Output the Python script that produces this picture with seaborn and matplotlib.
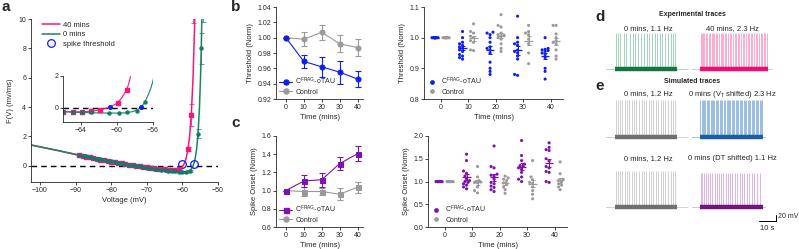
import numpy as np
import pandas as pd
import matplotlib
matplotlib.use("Agg")
import matplotlib.pyplot as plt
from matplotlib.lines import Line2D
import seaborn as sns
import warnings
warnings.filterwarnings("ignore")

sns.set_style("ticks")
plt.rcParams["font.family"] = ["Liberation Sans", "DejaVu Sans"]
plt.rcParams["mathtext.fontset"] = "custom"
plt.rcParams["mathtext.rm"] = "Liberation Sans"
plt.rcParams["axes.linewidth"] = 0.6
plt.rcParams["xtick.major.width"] = 0.6
plt.rcParams["ytick.major.width"] = 0.6
plt.rcParams["xtick.major.size"] = 2
plt.rcParams["ytick.major.size"] = 2
plt.rcParams["xtick.major.pad"] = 1.5
plt.rcParams["ytick.major.pad"] = 1.5
plt.rcParams["xtick.labelsize"] = 5
plt.rcParams["ytick.labelsize"] = 5
plt.rcParams["axes.labelsize"] = 5.5

PINK = "#f7177a"
GREEN = "#18875a"
TEAL = "#137a6c"
BLUE = "#0f1ef0"
GRAY = "#9a9a9a"
PURPLE = "#7d12b0"

# ---------------- a: F(V) ----------------
v_fit_40 = [-102.5, -95, -90, -85, -80, -75, -70, -66, -64, -63, -62, -61, -60.5,
            -60, -59.5, -59, -58.5, -58, -57.5, -57, -56.6, -56.4]
f_fit_40 = [1.42, 1.04, 0.77, 0.51, 0.27, 0.04, -0.15, -0.25, -0.29, -0.30, -0.30, -0.25, -0.18,
            -0.06, 0.14, 0.46, 1.02, 1.93, 3.47, 6.04, 9.3, 11.5]
v_fit_0 = [-102.5, -95, -90, -85, -80, -75, -70, -66, -64, -62, -60, -59, -58, -57.5,
           -57, -56.5, -56, -55.6, -55.2, -54.9, -54.7, -54.5]
f_fit_0 = [1.42, 1.05, 0.79, 0.54, 0.29, 0.05, -0.18, -0.31, -0.36, -0.39, -0.42, -0.42, -0.33, -0.22,
           -0.01, 0.38, 1.13, 2.2, 3.99, 6.08, 8.0, 10.5]

v_pts_40 = [-89, -88, -87, -86, -85, -84, -83, -82, -81, -80, -79, -78, -77, -76, -75,
            -74, -73, -72, -71, -70, -69, -68, -67, -66, -65, -64, -63, -62, -61,
            -58.4, -57.5, -56.9]
f_pts_40 = [0.73, 0.68, 0.63, 0.58, 0.53, 0.48, 0.43, 0.39, 0.34, 0.29, 0.25, 0.20, 0.16, 0.12, 0.08,
            0.04, 0.00, -0.03, -0.07, -0.10, -0.13, -0.16, -0.19, -0.22, -0.24, -0.26, -0.28, -0.28, -0.24,
            1.16, 3.47, 11.5]
e_pts_40 = [0.05] * 29 + [0.15, 0.75, 1.8]
v_pts_0 = [-89, -88, -87, -86, -85, -84, -83, -82, -81, -80, -79, -78, -77, -76, -75, -74,
           -73, -72, -71, -70, -69, -68, -67, -66, -65, -64, -63, -62, -61, -60, -59, -58,
           -55.6, -54.7, -54.3]
f_pts_0 = [0.75, 0.70, 0.65, 0.60, 0.55, 0.50, 0.45, 0.40, 0.35, 0.30, 0.25, 0.21, 0.16, 0.12, 0.08, 0.04,
           0.00, -0.04, -0.08, -0.12, -0.16, -0.20, -0.23, -0.27, -0.30, -0.33, -0.36, -0.38, -0.40, -0.41,
           -0.41, -0.34, 2.2, 8.0, 11.5]
e_pts_0 = [0.05] * 32 + [0.3, 1.05, 1.7]
v_thr = [-60.0, -56.8]
f_thr = [0.1, 0.1]

# inset
v_in_fit_40 = [-66, -64, -63, -62, -61, -60.5, -60, -59.5, -59, -58.7, -58.5]
f_in_fit_40 = [-0.25, -0.26, -0.23, -0.15, 0.0, 0.12, 0.28, 0.6, 1.05, 1.5, 1.96]
v_in_fit_0 = [-66, -64, -62, -60, -59, -58.3, -57.8, -57.3, -56.9, -56.5, -56.2, -56.0, -55.9]
f_in_fit_0 = [-0.25, -0.3, -0.33, -0.34, -0.32, -0.25, -0.15, 0.02, 0.37, 0.85, 1.3, 1.7, 2.0]
v_in_40 = [-66, -64.9, -63.9, -62.9, -61.9, -59.9, -58.9]
f_in_40 = [-0.25, -0.25, -0.25, -0.23, -0.13, 0.29, 1.12]
v_in_0 = [-66, -64.9, -63.9, -62.9, -60.9, -59.8, -58.85, -57.8, -56.9]
f_in_0 = [-0.25, -0.25, -0.27, -0.3, -0.33, -0.33, -0.3, -0.23, 0.37]
v_in_thr = [-60.8, -57.35]
f_in_thr = [0.02, 0.02]

# ---------------- b/c: group means ----------------
times = [0, 10, 20, 30, 40]
thr_tau_mean = [1.0, 0.969, 0.962, 0.955, 0.946]
thr_tau_sem = [0.0, 0.008, 0.013, 0.015, 0.010]
thr_ctl_mean = [1.0, 0.998, 1.007, 0.992, 0.987]
thr_ctl_sem = [0.0, 0.009, 0.010, 0.011, 0.011]
ons_tau_mean = [1.0, 1.105, 1.12, 1.296, 1.406]
ons_tau_sem = [0.0, 0.07, 0.078, 0.073, 0.08]
ons_ctl_mean = [1.0, 0.99, 0.99, 0.96, 1.037]
ons_ctl_sem = [0.0, 0.045, 0.04, 0.065, 0.06]

# individual cells
thr_tau = [[1.0] * 12,
           [1.02, 1.0, 0.985, 0.98, 0.975, 0.97, 0.965, 0.96, 0.955, 0.945, 0.94, 0.935, 0.93],
           [1.018, 1.015, 1.01, 1.0, 0.985, 0.97, 0.965, 0.96, 0.95, 0.92, 0.90, 0.89, 0.88],
           [1.07, 1.0, 0.985, 0.98, 0.975, 0.96, 0.955, 0.95, 0.94, 0.93, 0.88, 0.877],
           [1.0, 0.965, 0.962, 0.96, 0.958, 0.955, 0.95, 0.945, 0.935, 0.9, 0.89, 0.865]]
thr_ctl = [[1.0] * 10,
           [1.045, 1.02, 1.015, 1.005, 1.0, 0.99, 0.985, 0.96, 0.958],
           [1.075, 1.04, 1.035, 1.015, 1.01, 1.008, 1.005, 1.0, 0.995, 0.98, 0.965, 0.955],
           [1.04, 1.02, 1.015, 1.01, 0.995, 0.98, 0.95, 0.915],
           [1.04, 1.04, 1.012, 1.0, 0.99, 0.985, 0.98, 0.96, 0.94, 0.93]]
ons_tau = [[1.0] * 12,
           [1.6, 1.46, 1.23, 1.18, 1.12, 1.06, 1.02, 1.0, 0.98, 0.95, 0.92, 0.88, 0.84],
           [1.78, 1.33, 1.3, 1.16, 1.14, 1.12, 1.05, 0.98, 0.95, 0.9, 0.87, 0.82, 0.78],
           [1.9, 1.57, 1.46, 1.38, 1.35, 1.33, 1.3, 1.27, 1.2, 1.1, 1.05, 1.0],
           [1.85, 1.75, 1.7, 1.68, 1.5, 1.45, 1.33, 1.3, 1.22, 1.2, 1.0, 0.98]]
ons_ctl = [[1.0] * 10,
           [1.33, 1.1, 1.02, 1.0, 0.99, 0.98, 0.97, 0.88, 0.8, 0.75],
           [1.12, 1.08, 1.05, 1.02, 0.97, 0.93, 0.88, 0.82, 0.74],
           [1.46, 1.1, 1.04, 0.98, 0.96, 0.88, 0.8, 0.72, 0.62],
           [1.43, 1.17, 1.05, 1.02, 1.0, 0.95, 0.92, 0.88, 0.82]]

groups = ["tau", "ctl"]
tau_label = r"C$^{\rm FRAG}$-oTAU"

# ---------------- d/e: spike times (s from start of recording) ----------------
spk_exp_0 = [0.5, 1.8, 3.2, 5.0, 6.4, 8.9, 10.5, 12.0, 13.8, 15.1, 17.0, 18.9, 20.2, 21.8,
             23.5, 24.7, 26.3, 27.9, 29.6, 31.0, 32.8, 34.0, 35.5]
spk_exp_40 = [0.3, 1.0, 1.8, 2.5, 3.4, 4.2, 5.0, 5.7, 6.8, 7.6, 8.3, 9.5, 10.2, 11.0, 12.1,
              12.9, 13.8, 14.6, 15.5, 16.7, 17.4, 18.3, 19.5, 20.4, 21.2, 22.3, 23.1, 24.0,
              25.2, 26.1, 27.0, 28.0, 28.8, 29.9, 30.8, 31.6, 32.7, 33.6, 34.5, 35.6, 36.4,
              37.5, 38.4, 39.3]
spk_sim_0 = [0.4, 1.5, 2.9, 4.1, 5.6, 7.0, 8.2, 9.9, 11.3, 12.5, 14.0, 15.6, 16.8, 18.3,
             19.9, 21.0, 22.6, 24.1, 25.3, 26.9, 28.4, 29.6, 31.2, 32.7, 34.0, 35.4]
spk_sim_vt = [0.2, 0.9, 1.6, 2.4, 3.1, 3.9, 4.6, 5.5, 6.2, 7.0, 7.8, 8.5, 9.3, 10.1, 10.8,
              11.7, 12.4, 13.2, 14.0, 14.7, 15.6, 16.3, 17.1, 17.9, 18.6, 19.5, 20.2, 21.0,
              21.8, 22.5, 23.4, 24.1, 24.9, 25.7, 26.4, 27.3, 28.0, 28.8, 29.6, 30.3, 31.2,
              31.9, 32.7, 33.5, 34.2, 35.1, 35.8, 36.6]
spk_sim_dt = [0.3, 1.4, 2.2, 3.6, 4.8, 6.1, 7.0, 8.6, 9.8, 11.2, 12.6, 13.5, 15.0, 16.4,
              17.8, 19.0, 20.6, 21.7, 23.3, 24.8, 26.0, 27.6, 29.1, 30.4, 32.0, 33.5, 35.2]

# ------------------------------------------------------------------
W, H = 799, 249
fig = plt.figure(figsize=(W / 100, H / 100), dpi=100)


def px_axes(l, t, r, b):
    return fig.add_axes([l / W, 1 - b / H, (r - l) / W, (b - t) / H])


def px_text(x, y, s, **kw):
    fig.text(x / W, 1 - y / H, s, **kw)


# ---- a ----
ax = px_axes(31, 19, 218, 182)
ax.axhline(0, color="k", lw=1.0, ls=(0, (4, 3)), zorder=1)
sns.lineplot(x=v_fit_40, y=f_fit_40, color=PINK, lw=1.1, ax=ax, sort=False)
sns.lineplot(x=v_fit_0, y=f_fit_0, color=GREEN, lw=1.1, ax=ax, sort=False)
ax.errorbar(v_pts_40, f_pts_40, yerr=e_pts_40, fmt="s", ms=2.2, color=PINK,
            elinewidth=0.5, capsize=1.8, capthick=0.5)
ax.errorbar(v_pts_0, f_pts_0, yerr=e_pts_0, fmt="o", ms=2.2, color=TEAL,
            elinewidth=0.5, capsize=1.8, capthick=0.5)
ax.plot(v_thr, f_thr, "o", mfc="none", mec=BLUE, ms=5.5, mew=0.9)
ax.set_xlim(-102.5, -50)
ax.set_ylim(-1.1, 10)
ax.set_xticks([-100, -90, -80, -70, -60, -50])
ax.set_yticks([0, 2, 4, 6, 8, 10])
ax.set_xlabel("Voltage (mV)", labelpad=2)
ax.set_ylabel("F(V) (mv/ms)", labelpad=3)
sns.despine(ax=ax)
handles = [Line2D([], [], color=PINK, lw=1.1), Line2D([], [], color=GREEN, lw=1.1),
           Line2D([], [], ls="none", marker="o", mfc="none", mec=BLUE, ms=5.5, mew=0.9)]
ax.legend(handles, ["40 mins", "0 mins", "spike threshold"], loc="upper left",
          bbox_to_anchor=(0.04, 1.01), frameon=False, fontsize=5.5, handlelength=2.3,
          handletextpad=0.4, labelspacing=0.3, borderaxespad=0.1)

# inset
axi = px_axes(63, 76, 153, 122)
axi.axhline(0, color="k", lw=1.0, ls=(0, (4, 3)), zorder=1)
sns.lineplot(x=v_in_fit_40, y=f_in_fit_40, color=PINK, lw=0.8, ax=axi, sort=False)
sns.lineplot(x=v_in_fit_0, y=f_in_fit_0, color=GREEN, lw=0.8, ax=axi, sort=False)
axi.plot(v_in_40, f_in_40, "s", color=PINK, ms=2.2)
axi.plot(v_in_0, f_in_0, "o", color=TEAL, ms=2.2)
axi.plot(v_in_thr, f_in_thr, "o", color=BLUE, ms=2.6)
axi.set_xlim(-66, -56)
axi.set_ylim(-0.9, 2)
axi.set_xticks([-64, -60, -56])
axi.set_yticks([0, 2])
sns.despine(ax=axi)


# ---- b/c left: means over time ----
def mean_panel(rect, m_tau, s_tau, m_ctl, s_ctl, c_tau, ylim, yticks, fmt, ylabel):
    a = px_axes(*rect)
    for m, s, c in [(m_ctl, s_ctl, GRAY), (m_tau, s_tau, c_tau)]:
        a.errorbar(times, m, yerr=s, fmt="none", ecolor=c, elinewidth=0.8,
                   capsize=2, capthick=0.8)
        sns.lineplot(x=times, y=m, color=c, marker=fmt, ms=3.6, mec=c, lw=0.8, ax=a)
    a.set_xlim(-5.5, 43)
    a.set_ylim(*ylim)
    a.set_xticks(times)
    a.set_yticks(yticks)
    a.set_xlabel("Time (mins)", labelpad=2)
    a.set_ylabel(ylabel, labelpad=2)
    sns.despine(ax=a)
    hs = [Line2D([], [], color=c_tau, marker=fmt, ms=3.6, lw=0.8),
          Line2D([], [], color=GRAY, marker="o", ms=3.6, lw=0.8)]
    a.legend(hs, [tau_label, "Control"], loc="lower left", frameon=False, fontsize=5,
             handlelength=1.8, handletextpad=0.5, labelspacing=0.25, borderaxespad=0.1)
    return a


axb = mean_panel((276, 7, 363, 99), thr_tau_mean, thr_tau_sem, thr_ctl_mean, thr_ctl_sem,
                 BLUE, (0.92, 1.04), [0.92, 0.94, 0.96, 0.98, 1.00, 1.02, 1.04], "o",
                 "Threshold (Norm)")
axb.yaxis.set_major_formatter(matplotlib.ticker.FormatStrFormatter("%.2f"))
axc = mean_panel((276, 136, 363, 227), ons_tau_mean, ons_tau_sem, ons_ctl_mean, ons_ctl_sem,
                 PURPLE, (0.6, 1.6), [0.6, 0.8, 1.0, 1.2, 1.4, 1.6], "s",
                 "Spike Onset (Norm)")
axc.yaxis.set_major_formatter(matplotlib.ticker.FormatStrFormatter("%.1f"))


# ---- b/c right: individual cells ----
def swarm_offsets(vals, px_x, px_y, d=3.0, max_off=1.5):
    # place points like a bee swarm, limited to +-max_off units around the group centre
    step = d / px_x / 2
    cands = [0.0]
    k = 1
    while k * step <= max_off:
        cands += [-k * step, k * step]
        k += 1
    offs = np.zeros(len(vals))
    placed = []
    for i in np.argsort(vals, kind="stable"):
        y = vals[i] * px_y
        best, best_d = 0.0, -1.0
        for c in cands:
            md = min([np.hypot((c - px) * px_x, y - py) for px, py in placed], default=np.inf)
            if md >= d:
                best = c
                break
            if md > best_d:
                best, best_d = c, md
        offs[i] = best
        placed.append((best, y))
    return offs


def cell_panel(rect, v_tau, v_ctl, c_tau, xlim, ylim, yticks, ylabel):
    a = px_axes(*rect)
    px_x = (rect[2] - rect[0]) / (xlim[1] - xlim[0])
    px_y = (rect[3] - rect[1]) / (ylim[1] - ylim[0])
    rows = []
    for g, vals, centre in zip(groups, [v_tau, v_ctl], [-2, 2]):
        for t, vs in zip(times, vals):
            offs = swarm_offsets(np.array(vs), px_x, px_y)
            for v, o in zip(vs, offs):
                rows.append({"time": t, "x": t + centre + o, "value": v, "group": g})
    df = pd.DataFrame(rows)
    sns.scatterplot(data=df, x="x", y="value", hue="group", hue_order=groups,
                    palette=[c_tau, GRAY], s=5, linewidth=0, legend=False, ax=a)
    stats = df.groupby(["group", "time"])["value"].agg(["mean", "sem"]).reset_index()
    for _, r in stats.iterrows():
        off = -2 if r["group"] == "tau" else 2
        c = c_tau if r["group"] == "tau" else GRAY
        x = r["time"] + off
        a.hlines(r["mean"], x - 1.5, x + 1.5, color=c, lw=0.9, zorder=5)
        a.errorbar(x, r["mean"], yerr=r["sem"], fmt="none", ecolor=c, elinewidth=0.7,
                   capsize=1.2, capthick=0.7, zorder=5)
    a.set_xlim(*xlim)
    a.set_ylim(*ylim)
    a.set_xticks(times)
    a.set_yticks(yticks)
    a.set_xlabel("Time (mins)", labelpad=2)
    a.set_ylabel(ylabel, labelpad=2)
    sns.despine(ax=a)
    hs = [Line2D([], [], ls="none", color=c_tau, marker="o", ms=2.4),
          Line2D([], [], ls="none", color=GRAY, marker="o", ms=2.4)]
    a.legend(hs, [tau_label, "Control"], loc="lower left", frameon=False, fontsize=5,
             handlelength=1.2, handletextpad=0.8, labelspacing=0.25, borderaxespad=0.1)
    return a


axb2 = cell_panel((424, 7, 563, 99), thr_tau, thr_ctl, BLUE, (-6, 44.5), (0.8, 1.1),
                  [0.8, 0.9, 1.0, 1.1], "Threshold (Norm)")
axc2 = cell_panel((428, 136, 567, 227), ons_tau, ons_ctl, PURPLE, (-6, 44.5), (0.0, 2.0),
                  [0.0, 0.5, 1.0, 1.5, 2.0], "Spike Onset (Norm)")
axc2.yaxis.set_major_formatter(matplotlib.ticker.FormatStrFormatter("%.1f"))

# ---- d/e: voltage traces ----
PX_S, PX_MV = 1.7, 0.285
axt = px_axes(600, 25, 790, 232)
axt.set_xlim(0, 190 / PX_S)
axt.set_ylim(-207 / PX_MV, 0)
axt.axis("off")


def trace(spikes, x0, dur, base, c_spk, c_base, pad_l, pad_r, peak=125):
    axt.plot([x0 - pad_l, x0 + dur + pad_r], [base, base], color=c_spk, lw=0.6, alpha=0.7)
    axt.vlines(np.asarray(spikes) + x0, base, base + peak, color=c_spk, lw=0.6, alpha=0.75)
    axt.plot([x0, x0 + dur], [base, base], color=c_base, lw=3.2, solid_capstyle="butt")


rows_y = [-(69 - 25) / PX_MV, -(137 - 25) / PX_MV, -(207 - 25) / PX_MV]
xl, xr = (615 - 600) / PX_S, (700 - 600) / PX_S
trace(spk_exp_0, xl, 36.5, rows_y[0], "#6cbf94", "#16743f", 5.3, 6.5)
trace(spk_exp_40, xr, 40, rows_y[0], "#f77fb3", "#ec0f70", 4.7, 2.4)
trace(spk_sim_0, xl, 36.5, rows_y[1], "#b5b5b5", "#6f6f6f", 5.3, 6.5, peak=130)
trace(spk_sim_vt, xr, 37, rows_y[1], "#5e9ad0", "#1b5fa3", 4.7, 1.5, peak=130)
trace(spk_sim_0, xl, 36.5, rows_y[2], "#b5b5b5", "#6f6f6f", 5.3, 6.5)
trace(spk_sim_dt, xr, 37, rows_y[2], "#c98bd3", "#74137e", 4.7, 1.5, peak=118)

# scale bar: 10 s, 20 mV
sb_x, sb_y = (759 - 600) / PX_S, -(221 - 25) / PX_MV
axt.plot([sb_x, sb_x + 10, sb_x + 10], [sb_y, sb_y, sb_y + 20], color="k", lw=0.7)
px_text(777.5, 216, "20 mV", fontsize=5, va="center")
px_text(767, 228, "10 s", fontsize=5.5, ha="center", va="center")

px_text(692, 15, "Experimental traces", fontsize=5, fontweight="bold", ha="center", va="center")
px_text(648, 29, "0 mins, 1.1 Hz", fontsize=5.5, ha="center", va="center")
px_text(732, 29, "40 mins, 2.3 Hz", fontsize=5.5, ha="center", va="center")
px_text(692, 81, "Simulated traces", fontsize=5, fontweight="bold", ha="center", va="center")
px_text(648, 94, "0 mins, 1.2 Hz", fontsize=5.5, ha="center", va="center")
px_text(732, 94, r"0 mins (V$_{\rm T}$ shifted) 2.3 Hz", fontsize=5.5, ha="center", va="center")
px_text(648, 159, "0 mins, 1.2 Hz", fontsize=5.5, ha="center", va="center")
px_text(732, 159, "0 mins (DT shifted) 1.1 Hz", fontsize=5.5, ha="center", va="center")

# panel letters
for x, y, s in [(2, 7, "a"), (231, 7, "b"), (231, 123, "c"), (595, 17, "d"), (595, 86, "e")]:
    px_text(x, y, s, fontsize=11, fontweight="bold", va="center")

fig.savefig("out.png", dpi=100)
